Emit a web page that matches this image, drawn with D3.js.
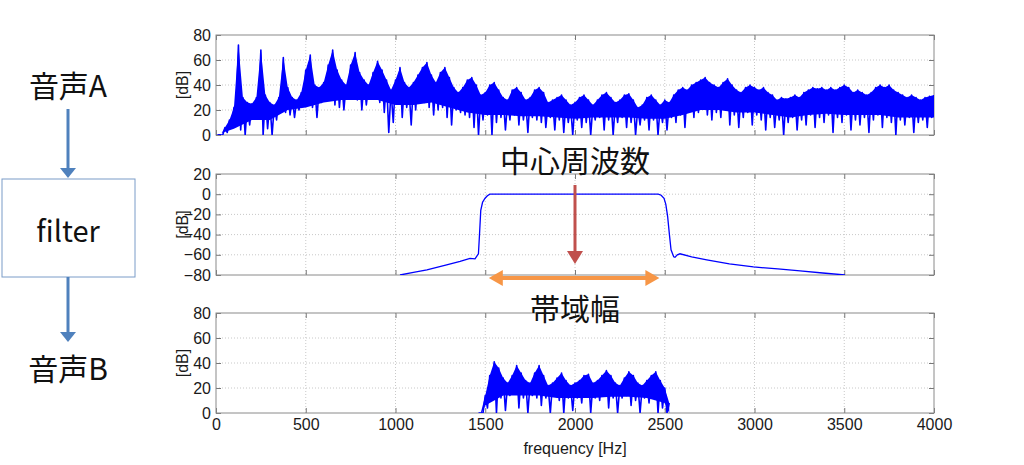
<!DOCTYPE html>
<html>
<head>
<meta charset="utf-8">
<script src="https://cdn.jsdelivr.net/npm/d3@7"></script>
<style>
	body { margin: 0; background: #fff; }
	svg { display: block; }
	.tick text { font-family: "Liberation Sans", Arial, sans-serif; font-size: 16px; fill: #1a1a1a; }
	.lbl { font-family: "Liberation Sans", Arial, sans-serif; font-size: 16px; fill: #1a1a1a; }
	.jp { font-family: "Noto Sans CJK JP", sans-serif; fill: #111; }
</style>
</head>
<body>
<svg id="chart" width="1024" height="465"></svg>
<script>
// sample grid of spectrum A (Hz) and level, [dB]
var freqA = d3.range(25, 4001, 25);
var peakA = [
	0, 6, 12, 22,   72, 30, 26, 25,   30, 68, 32, 26,   24, 30, 62, 38,
	30, 28, 34, 52,   64, 40, 38, 42,   56, 68, 52, 44,   40, 56, 66, 50,
	44, 40, 50, 59,   52, 44, 36, 44,   54, 42, 38, 42,   48, 54, 58, 48,
	42, 50, 54, 46,   38, 34, 38, 44,   46, 40, 32, 34,   40, 42, 36, 30,
	28, 36, 38, 34,   28, 30, 36, 38,   34, 26, 28, 30,   32, 28, 24, 26,
	30, 32, 28, 24,   28, 32, 34, 30,   26, 28, 32, 33,   28, 22, 24, 30,
	32, 28, 24, 28,   26, 32, 36, 38,   36, 40, 42, 44,   46, 42, 40, 38,
	42, 45, 40, 36,   34, 38, 40, 38,   36, 38, 34, 32,   28, 30, 29, 30,
	32, 30, 34, 36,   38, 37, 38, 36,   38, 36, 38, 40,   38, 34, 36, 34,
	32, 34, 38, 40,   38, 40, 36, 34,   32, 30, 32, 30,   28, 30, 31, 32
];
var dipA = [
	0, 0, 2, 8,   24, 4, 0, 8,   14, 26, 0, 5,   0, 12, 26, 18,
	16, 14, 20, 30,   28, 22, 14, 26,   28, 34, 24, 22,   20, 30, 34, 28,
	20, 24, 30, 32,   26, 18, 2, 10,   28, 14, 22, 8,   20, 30, 26, 22,
	16, 20, 22, 14,   8, 20, 18, 16,   14, 6, 0, 12,   16, 0, 10, 14,
	4, 12, 16, 8,   12, 2, 14, 12,   10, 6, 14, 4,   12, 2, 10, 0,
	12, 6, 10, 0,   12, 14, 4, 12,   0, 10, 14, 6,   10, 0, 8, 12,
	4, 12, 0, 10,   4, 14, 10, 16,   6, 20, 14, 18,   22, 16, 12, 18,
	14, 20, 8, 16,   6, 14, 18, 8,   16, 12, 4, 14,   6, 12, 0, 10,
	14, 4, 12, 8,   16, 6, 14, 10,   16, 2, 14, 10,   16, 4, 12, 8,
	14, 2, 12, 16,   6, 14, 10, 0,   12, 8, 14, 2,   10, 12, 6, 14
];
// lower edge of the solid band of spectrum A, every 100 Hz
var floorFreqA = d3.range(0, 4001, 100);
var floorA = [0, 5, 12, 12, 20, 22, 26, 28, 28, 28, 24, 24, 26, 22, 18, 16, 16, 15, 15, 14, 13,
	14, 14, 14, 13, 13, 16, 20, 20, 18, 18, 16, 14, 16, 17, 16, 16, 16, 14, 14, 14];

// band-pass filter response
var filterFreq = [1025, 1100, 1175, 1285, 1360, 1415, 1443, 1462, 1468, 1475, 1485, 1499, 1512, 1526,
	2464, 2480, 2496, 2506, 2516, 2526, 2535, 2550, 2557, 2570, 2585, 2650, 2734, 2860, 2994, 3130, 3254, 3380, 3504];
var filterDb = [-80, -77.5, -75, -70, -66.5, -63.5, -64, -59, -40, -16, -8, -4, -1.5, 0,
	0, -1, -4, -10, -22, -40, -55, -62, -62.5, -60, -59, -62, -65, -69, -72, -74, -76, -78, -80];

// spectrum B (after filter)
var freqB = d3.range(1475, 2526, 25);
var peakB = [0, 14, 30, 41, 36, 28, 24, 30, 38, 32, 26, 24, 32, 38, 30, 22, 24, 28, 32, 26, 22, 24,
	26, 30, 31, 24, 26, 30, 34, 30, 24, 22, 28, 33, 30, 24, 22, 26, 30, 33, 26, 20, 8];
var dipB = [0, 0, 4, 14, 0, 12, 2, 14, 16, 4, 12, 0, 14, 12, 6, 12, 0, 14, 10, 0, 12, 2,
	12, 8, 14, 0, 12, 10, 14, 4, 12, 0, 12, 14, 6, 10, 0, 12, 8, 12, 0, 4, 0];
var floorFreqB = [1480, 1500, 1600, 1700, 1800, 1900, 2000, 2100, 2200, 2300, 2400, 2500, 2525];
var floorB = [0, 6, 14, 14, 14, 12, 12, 12, 13, 13, 12, 8, 0];

var xTicks = [0, 500, 1000, 1500, 2000, 2500, 3000, 3500, 4000];
var centerFreq = 2000;
var bandEdges = [1520, 2470];

var svg = d3.select('#chart');
var x = d3.scaleLinear().domain([0, 4000]).range([216, 934]);

var panels = [
	{id: 'a', domain: [0, 80], ticks: [0, 20, 40, 60, 80], top: 35, bottom: 135},
	{id: 'f', domain: [-80, 20], ticks: [-80, -60, -40, -20, 0, 20], top: 174, bottom: 275},
	{id: 'b', domain: [0, 80], ticks: [0, 20, 40, 60, 80], top: 313, bottom: 413}
];

var defs = svg.append('defs');

panels.forEach(function (p, k) {
	p.y = d3.scaleLinear().domain(p.domain).range([p.bottom, p.top]);
	var g = svg.append('g').attr('class', 'panel-' + p.id);

	defs.append('clipPath').attr('id', 'clip-' + p.id)
		.append('rect')
		.attr('x', x.range()[0]).attr('y', p.top)
		.attr('width', x.range()[1] - x.range()[0]).attr('height', p.bottom - p.top);

	// dotted grid
	g.append('g').selectAll('line')
		.data(xTicks.slice(1, -1))
		.enter().append('line')
		.attr('x1', function (d) { return x(d); }).attr('x2', function (d) { return x(d); })
		.attr('y1', p.top).attr('y2', p.bottom)
		.attr('stroke', '#c8c8c8').attr('stroke-dasharray', '1,2');
	g.append('g').selectAll('line')
		.data(p.ticks.slice(1, -1))
		.enter().append('line')
		.attr('x1', x.range()[0]).attr('x2', x.range()[1])
		.attr('y1', function (d) { return p.y(d); }).attr('y2', function (d) { return p.y(d); })
		.attr('stroke', '#c8c8c8').attr('stroke-dasharray', '1,2');

	var left = g.append('g')
		.attr('transform', 'translate(' + x.range()[0] + ',0)')
		.call(d3.axisLeft(p.y).tickValues(p.ticks).tickSizeInner(-5).tickSizeOuter(0).tickPadding(5));
	var right = g.append('g')
		.attr('transform', 'translate(' + x.range()[1] + ',0)')
		.call(d3.axisRight(p.y).tickValues(p.ticks).tickSizeInner(-5).tickSizeOuter(0).tickFormat(''));
	var topAx = g.append('g')
		.attr('transform', 'translate(0,' + p.top + ')')
		.call(d3.axisTop(x).tickValues(xTicks).tickSizeInner(-5).tickSizeOuter(0).tickFormat(''));
	var bottomAx = g.append('g')
		.attr('transform', 'translate(0,' + p.bottom + ')')
		.call(d3.axisBottom(x).tickValues(xTicks).tickSizeInner(-5).tickSizeOuter(0).tickPadding(6)
			.tickFormat(k == 2 ? d3.format('d') : ''));
	[left, right, topAx, bottomAx].forEach(function (a) {
		a.select('.domain').remove();
		a.selectAll('.tick line').attr('stroke', '#777');
	});

	g.append('rect')
		.attr('x', x.range()[0]).attr('y', p.top)
		.attr('width', x.range()[1] - x.range()[0]).attr('height', p.bottom - p.top)
		.attr('fill', 'none').attr('stroke', '#8a8a8a').attr('stroke-width', 1);

	g.append('text').attr('class', 'lbl')
		.attr('transform', 'translate(188,' + (p.top + p.bottom) / 2 + ') rotate(-90)')
		.attr('text-anchor', 'middle')
		.text('[dB]');
});

svg.append('text').attr('class', 'lbl')
	.attr('x', x(2000)).attr('y', 454)
	.attr('text-anchor', 'middle')
	.text('frequency [Hz]');

var line = function (p) {
	return d3.line()
		.x(function (d) { return x(d[0]); })
		.y(function (d) { return p.y(d[1]); });
};

// dense spectrum: solid band from floor up to the peaks, plus dip/peak zigzag
function drawSpectrum(p, freq, peak, dip, floorFreq, floor) {
	var band = freq.map(function (f, i) { return [f, peak[i]]; });
	var bottom = floorFreq.map(function (f, i) { return [f, floor[i]]; }).reverse();
	svg.append('path')
		.datum(band.concat(bottom))
		.attr('clip-path', 'url(#clip-' + p.id + ')')
		.attr('fill', '#0000ff')
		.attr('d', function (d) { return line(p)(d) + 'Z'; });

	var pts = [];
	freq.forEach(function (f, i) {
		pts.push([f - 12.5, dip[i]]);
		pts.push([f, peak[i]]);
	});
	svg.append('path')
		.datum(pts)
		.attr('clip-path', 'url(#clip-' + p.id + ')')
		.attr('fill', 'none')
		.attr('stroke', '#0000ff')
		.attr('stroke-width', 1.6)
		.attr('stroke-linejoin', 'round')
		.attr('d', line(p));
}

drawSpectrum(panels[0], freqA, peakA, dipA, floorFreqA, floorA);
drawSpectrum(panels[2], freqB, peakB, dipB, floorFreqB, floorB);

svg.append('path')
	.datum(filterFreq.map(function (f, i) { return [f, filterDb[i]]; }))
	.attr('clip-path', 'url(#clip-f)')
	.attr('fill', 'none')
	.attr('stroke', '#0000ff')
	.attr('stroke-width', 1.3)
	.attr('d', line(panels[1]));

// annotations
var pf = panels[1];
svg.append('text').attr('class', 'jp')
	.attr('x', x(centerFreq)).attr('y', 172)
	.attr('text-anchor', 'middle').style('font-size', '30px')
	.text('中心周波数');

svg.append('line')
	.attr('x1', x(centerFreq)).attr('x2', x(centerFreq))
	.attr('y1', 185).attr('y2', 252)
	.attr('stroke', '#c0504d').attr('stroke-width', 3);
svg.append('path')
	.attr('d', 'M' + (x(centerFreq) - 8) + ',251 L' + (x(centerFreq) + 8) + ',251 L' + x(centerFreq) + ',264 Z')
	.attr('fill', '#c0504d');

var ay = pf.bottom + 3;
svg.append('line')
	.attr('x1', x(bandEdges[0]) + 12).attr('x2', x(bandEdges[1]) - 12)
	.attr('y1', ay).attr('y2', ay)
	.attr('stroke', '#f79646').attr('stroke-width', 4);
svg.append('path')
	.attr('d', 'M' + x(bandEdges[0]) + ',' + ay + ' l14,-8 l0,16 Z')
	.attr('fill', '#f79646');
svg.append('path')
	.attr('d', 'M' + x(bandEdges[1]) + ',' + ay + ' l-14,-8 l0,16 Z')
	.attr('fill', '#f79646');

svg.append('text').attr('class', 'jp')
	.attr('x', x(centerFreq)).attr('y', 320)
	.attr('text-anchor', 'middle').style('font-size', '30px')
	.text('帯域幅');

// block diagram on the left
var blue = '#4f81bd';
svg.append('text').attr('class', 'jp')
	.attr('x', 68).attr('y', 97)
	.attr('text-anchor', 'middle').style('font-size', '30px')
	.text('音声A');
svg.append('rect')
	.attr('x', 2).attr('y', 179).attr('width', 133).attr('height', 98)
	.attr('fill', '#fff').attr('stroke', '#7a9cc8').attr('stroke-width', 1);
svg.append('text').attr('class', 'jp')
	.attr('x', 68).attr('y', 242)
	.attr('text-anchor', 'middle').style('font-size', '29px')
	.text('filter');
svg.append('text').attr('class', 'jp')
	.attr('x', 68).attr('y', 380)
	.attr('text-anchor', 'middle').style('font-size', '30px')
	.text('音声B');

[[109, 178], [277, 342]].forEach(function (s) {
	svg.append('line')
		.attr('x1', 68).attr('x2', 68).attr('y1', s[0]).attr('y2', s[1] - 9)
		.attr('stroke', blue).attr('stroke-width', 3);
	svg.append('path')
		.attr('d', 'M60,' + (s[1] - 10) + ' L76,' + (s[1] - 10) + ' L68,' + s[1] + ' Z')
		.attr('fill', blue);
});
</script>
</body>
</html>
